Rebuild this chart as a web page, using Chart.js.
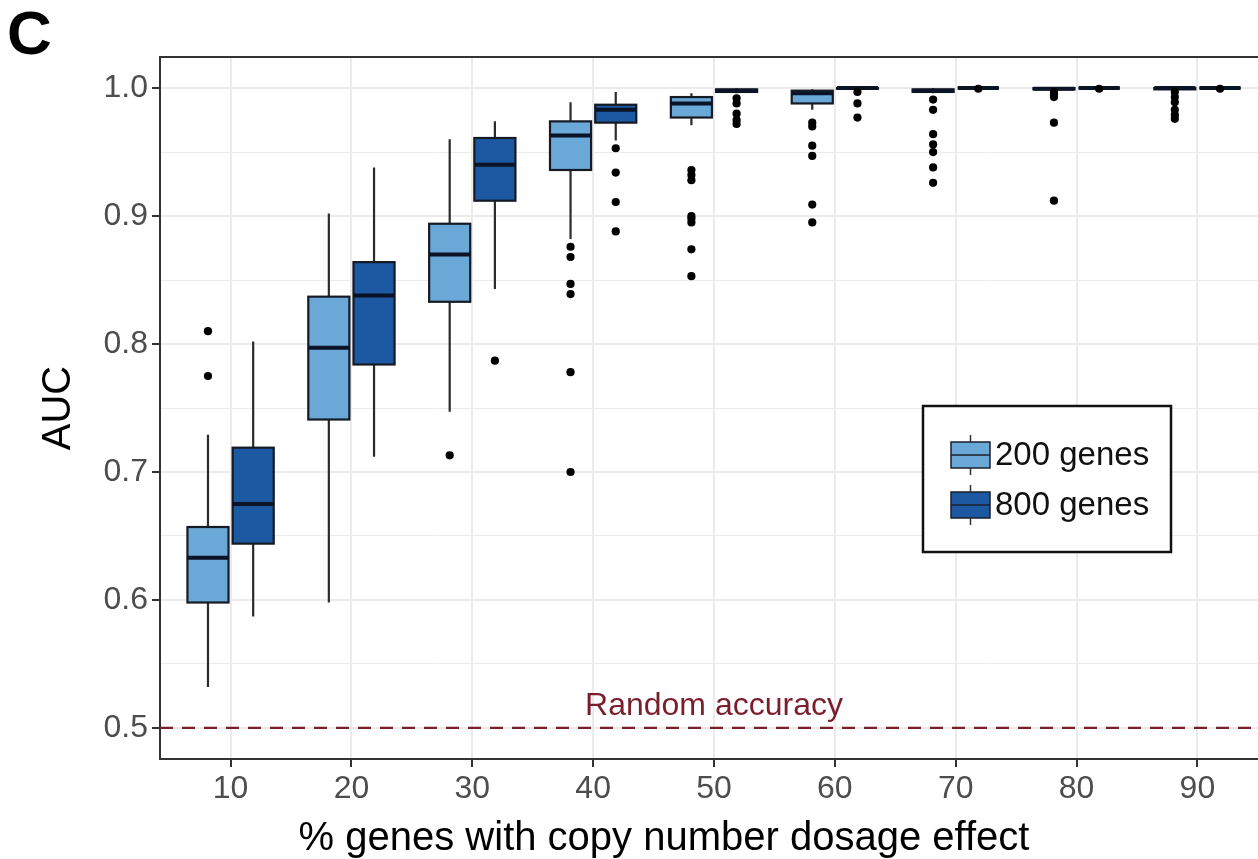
<!DOCTYPE html>
<html>
<head>
<meta charset="utf-8">
<title>AUC by % genes with copy number dosage effect</title>
<script src="https://cdn.jsdelivr.net/npm/chart.js"></script>
<style>
  html, body { margin: 0; padding: 0; background: #ffffff; overflow: hidden; }
  #wrap { width: 1275px; height: 859px; }
</style>
</head>
<body>
<div id="wrap"><canvas id="aucChart" width="1275" height="859"></canvas></div>
<script>
// categories (% genes with dosage effect) and axis ticks
const groups = [10, 20, 30, 40, 50, 60, 70, 80, 90];
const xTicks = [10, 20, 30, 40, 50, 60, 70, 80, 90];
const yTicks = [0.5, 0.55, 0.6, 0.65, 0.7, 0.75, 0.8, 0.85, 0.9, 0.95, 1.0];
const randomAuc = 0.5;

// 200 genes - box stats
const lo200  = [0.532, 0.598, 0.747, 0.882, 0.971, 0.983, 0.996, 0.998, 0.998];
const q1_200 = [0.598, 0.741, 0.833, 0.936, 0.977, 0.988, 0.997, 0.999, 0.999];
const med200 = [0.633, 0.797, 0.870, 0.963, 0.988, 0.996, 0.998, 0.9995, 1.0];
const q3_200 = [0.657, 0.837, 0.894, 0.974, 0.993, 0.998, 0.999, 1.0, 1.0];
const hi200  = [0.729, 0.902, 0.960, 0.989, 0.996, 0.999, 1.0, 1.0, 1.0];
const out200 = [
  [0.810, 0.775],
  [],
  [0.713],
  [0.876, 0.868, 0.847, 0.839, 0.778, 0.700],
  [0.936, 0.932, 0.928, 0.900, 0.898, 0.895, 0.874, 0.853],
  [0.973, 0.970, 0.955, 0.947, 0.909, 0.895],
  [0.991, 0.983, 0.964, 0.956, 0.950, 0.938, 0.926],
  [0.997, 0.995, 0.993, 0.973, 0.912],
  [0.997, 0.993, 0.989, 0.983, 0.979, 0.976]
];

// 800 genes
const lo800  = [0.587, 0.712, 0.843, 0.959, 0.996, 0.999, 0.999, 0.9995, 0.9995];
const q1_800 = [0.644, 0.784, 0.912, 0.973, 0.997, 0.9995, 1.0, 1.0, 1.0];
const med800 = [0.675, 0.838, 0.940, 0.983, 0.998, 1.0, 1.0, 1.0, 1.0];
const q3_800 = [0.719, 0.864, 0.961, 0.987, 0.999, 1.0, 1.0, 1.0, 1.0];
const hi800  = [0.802, 0.938, 0.974, 0.997, 1.0, 1.0, 1.0, 1.0, 1.0];
const out800 = [
  [],
  [],
  [0.787],
  [0.953, 0.934, 0.911, 0.888],
  [0.992, 0.988, 0.980, 0.975, 0.972],
  [0.997, 0.988, 0.977],
  [0.9995],
  [0.9995],
  [0.9995]
];

const series = [
  { label: '200 genes', offset: -1.87, fill: '#6aa9d7', lo: lo200, q1: q1_200, med: med200, q3: q3_200, hi: hi200, out: out200 },
  { label: '800 genes', offset: 1.87, fill: '#1d58a3', lo: lo800, q1: q1_800, med: med800, q3: q3_800, hi: hi800, out: out800 }
];
const boxHalf = 1.7; // in x units

// outlier points built from the arrays above
const outlierSets = series.map(s => ({
  type: 'scatter',
  label: s.label + ' outliers',
  data: groups.flatMap((g, i) => s.out[i].map(v => ({ x: g + s.offset, y: v }))),
  backgroundColor: '#000000',
  borderWidth: 0,
  pointRadius: 4.1,
  pointHoverRadius: 4.1
}));

const X_MIN = 4.16, X_MAX = 95.84;
const FONT = '"Liberation Sans", Arial, sans-serif';

// box, whiskers and median drawn through the chart's scales
const boxPlugin = {
  id: 'boxes',
  beforeDatasetsDraw(chart) {
    const { ctx, scales: { x, y } } = chart;
    ctx.save();
    series.forEach(s => {
      groups.forEach((g, i) => {
        const cx = x.getPixelForValue(g + s.offset);
        const left = x.getPixelForValue(g + s.offset - boxHalf);
        const right = x.getPixelForValue(g + s.offset + boxHalf);
        const yLo = y.getPixelForValue(s.lo[i]);
        const yQ1 = y.getPixelForValue(s.q1[i]);
        const yMed = y.getPixelForValue(s.med[i]);
        const yQ3 = y.getPixelForValue(s.q3[i]);
        const yHi = y.getPixelForValue(s.hi[i]);

        ctx.strokeStyle = '#2b2b2b';
        ctx.lineWidth = 2.2;
        ctx.beginPath();
        ctx.moveTo(cx, yLo); ctx.lineTo(cx, yQ1);
        ctx.moveTo(cx, yQ3); ctx.lineTo(cx, yHi);
        ctx.stroke();

        ctx.fillStyle = s.fill;
        ctx.fillRect(left, yQ3, right - left, yQ1 - yQ3);
        ctx.strokeStyle = '#161a24';
        ctx.lineWidth = 2.2;
        ctx.strokeRect(left, yQ3, right - left, yQ1 - yQ3);

        ctx.strokeStyle = '#0b1326';
        ctx.lineWidth = 4;
        ctx.beginPath();
        ctx.moveTo(left, yMed); ctx.lineTo(right, yMed);
        ctx.stroke();
      });
    });
    ctx.restore();
  },
  afterDatasetsDraw(chart) {
    const { ctx, chartArea } = chart;
    ctx.save();
    // panel border (top/right; left and bottom come from the axes)
    ctx.strokeStyle = '#333333';
    ctx.lineWidth = 2;
    ctx.beginPath();
    ctx.moveTo(chartArea.left, chartArea.top);
    ctx.lineTo(chartArea.right, chartArea.top);
    ctx.lineTo(chartArea.right, chartArea.bottom);
    ctx.stroke();

    // "Random accuracy" label above dashed line
    const y = chart.scales.y;
    ctx.fillStyle = '#7a1e2c';
    ctx.font = '32px ' + FONT;
    ctx.textAlign = 'center';
    ctx.textBaseline = 'alphabetic';
    ctx.fillText('Random accuracy', (chartArea.left + chartArea.right) / 2, y.getPixelForValue(randomAuc) - 13);

    // legend box
    const lx = 923, ly = 406, lw = 248, lh = 146;
    ctx.fillStyle = '#ffffff';
    ctx.fillRect(lx, ly, lw, lh);
    ctx.strokeStyle = '#111111';
    ctx.lineWidth = 2.5;
    ctx.strokeRect(lx, ly, lw, lh);
    series.forEach((s, k) => {
      const cy = 455 + k * 50;
      const kx = 951, kw = 39, kh = 26;
      ctx.strokeStyle = '#333333';
      ctx.lineWidth = 1.5;
      ctx.beginPath();
      ctx.moveTo(kx + kw / 2, cy - 20); ctx.lineTo(kx + kw / 2, cy + 20);
      ctx.stroke();
      ctx.fillStyle = s.fill;
      ctx.fillRect(kx, cy - kh / 2, kw, kh);
      ctx.strokeStyle = '#1b1f2a';
      ctx.lineWidth = 1.5;
      ctx.strokeRect(kx, cy - kh / 2, kw, kh);
      ctx.beginPath();
      ctx.moveTo(kx, cy); ctx.lineTo(kx + kw, cy);
      ctx.stroke();
      ctx.fillStyle = '#111111';
      ctx.font = '33px ' + FONT;
      ctx.textAlign = 'left';
      ctx.textBaseline = 'middle';
      ctx.fillText(s.label, 995, cy + 1);
    });

    // axis titles and panel tag
    ctx.fillStyle = '#000000';
    ctx.font = '40px ' + FONT;
    ctx.textAlign = 'center';
    ctx.textBaseline = 'alphabetic';
    ctx.fillText('% genes with copy number dosage effect', 664, 850);

    ctx.save();
    ctx.translate(70, (chartArea.top + chartArea.bottom) / 2);
    ctx.rotate(-Math.PI / 2);
    ctx.fillText('AUC', 0, 0);
    ctx.restore();

    ctx.font = 'bold 62px ' + FONT;
    ctx.textAlign = 'left';
    ctx.fillText('C', 7, 54);
    ctx.restore();
  }
};

const isMajor = v => Math.abs(v * 10 - Math.round(v * 10)) < 1e-6;

new Chart(document.getElementById('aucChart'), {
  type: 'scatter',
  data: {
    datasets: [
      {
        type: 'line',
        label: 'Random accuracy',
        data: [{ x: X_MIN, y: randomAuc }, { x: X_MAX, y: randomAuc }],
        borderColor: '#7a1e2c',
        borderWidth: 2.4,
        borderDash: [13, 9],
        pointRadius: 0,
        fill: false
      },
      ...outlierSets
    ]
  },
  options: {
    responsive: false,
    animation: false,
    devicePixelRatio: 1,
    layout: { padding: { left: 0, top: 57, right: 7, bottom: 0 } },
    plugins: {
      legend: { display: false },
      tooltip: { enabled: false }
    },
    scales: {
      x: {
        type: 'linear',
        min: X_MIN,
        max: X_MAX,
        afterBuildTicks: scale => { scale.ticks = xTicks.map(v => ({ value: v })); },
        afterFit: scale => { scale.height = 100; },
        border: { display: true, color: '#333333', width: 2 },
        grid: { color: '#ebebeb', lineWidth: 2, tickLength: 8, tickColor: '#333333', tickWidth: 2 },
        ticks: {
          color: '#4d4d4d',
          font: { family: FONT, size: 32 },
          padding: 3,
          maxRotation: 0,
          callback: v => String(v)
        }
      },
      y: {
        min: 0.4757,
        max: 1.0243,
        afterBuildTicks: scale => { scale.ticks = yTicks.map(v => ({ value: v })); },
        afterFit: scale => { scale.width = 160; },
        border: { display: true, color: '#333333', width: 2 },
        grid: {
          color: '#ebebeb',
          lineWidth: c => (c.tick && isMajor(c.tick.value)) ? 2 : 1,
          tickLength: 8,
          tickWidth: 2,
          tickColor: c => (c.tick && isMajor(c.tick.value)) ? '#333333' : 'rgba(0,0,0,0)'
        },
        ticks: {
          color: '#4d4d4d',
          font: { family: FONT, size: 32 },
          padding: 4,
          callback: v => isMajor(v) ? v.toFixed(1) : ''
        }
      }
    }
  },
  plugins: [boxPlugin]
});
</script>
</body>
</html>
